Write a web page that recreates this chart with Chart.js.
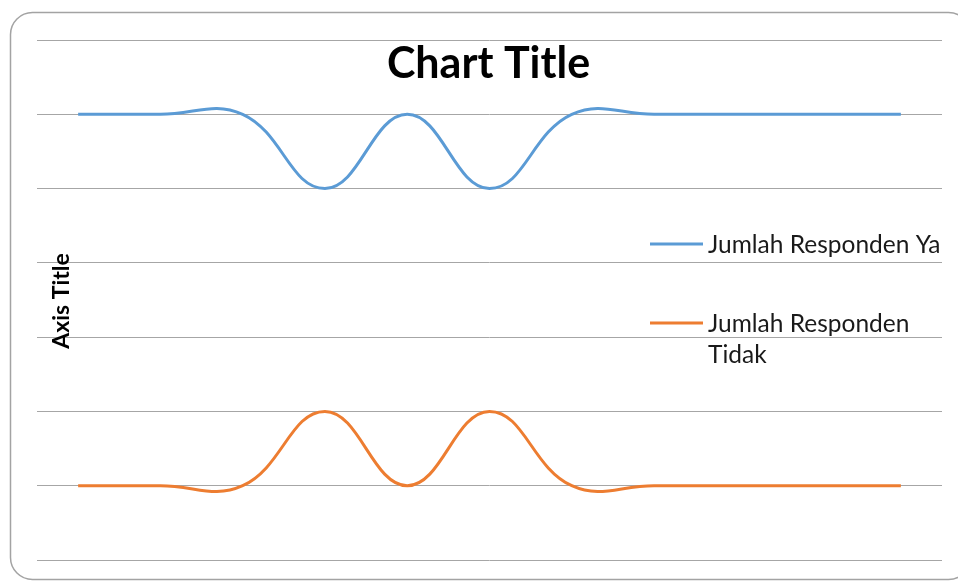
<!DOCTYPE html>
<html>
<head>
<meta charset="utf-8">
<script src="https://cdn.jsdelivr.net/npm/chart.js@4"></script>
<style>
  html, body { margin: 0; padding: 0; background: #ffffff; }
  #wrap { position: relative; width: 958px; height: 582px; }
  canvas { display: block; }
</style>
</head>
<body>
<div id="wrap"><canvas id="c" width="958" height="582"></canvas></div>
<script>
// Survey answers per item
const categories = ['1', '2', '3', '4', '5', '6', '7', '8', '9', '10', '11'];
const jumlahYa = [6, 6, 6, 5, 6, 5, 6, 6, 6, 6, 6];
const jumlahTidak = [1, 1, 1, 2, 1, 2, 1, 1, 1, 1, 1];
const seriesNames = ['Jumlah Responden Ya', 'Jumlah Responden Tidak'];
const chartTitle = 'Chart Title';
const axisTitle = 'Axis Title';

const BLUE = '#5b9bd5';
const ORANGE = '#ed7d31';

// Rounded frame around the whole chart
const framePlugin = {
  id: 'frame',
  beforeDraw(chart) {
    const ctx = chart.ctx;
    ctx.save();
    ctx.strokeStyle = '#a3a3a3';
    ctx.lineWidth = 1.5;
    ctx.beginPath();
    ctx.roundRect(10.5, 12.5, 960, 567, 22);
    ctx.stroke();
    ctx.restore();
  }
};

// Title, vertical axis title and legend drawn on top of the plot
const overlayPlugin = {
  id: 'overlay',
  afterDraw(chart) {
    const ctx = chart.ctx;
    const area = chart.chartArea;
    ctx.save();
    ctx.fillStyle = '#000000';
    ctx.textAlign = 'center';
    ctx.textBaseline = 'alphabetic';
    ctx.font = 'bold 43px Lato';
    ctx.fillText(chartTitle, (area.left + area.right) / 2 - 1, 78);

    ctx.save();
    ctx.translate(69, 301);
    ctx.rotate(-Math.PI / 2);
    ctx.font = 'bold 23px Lato';
    ctx.fillText(axisTitle, 0, 0);
    ctx.restore();

    // legend
    const items = [
      { color: chart.data.datasets[0].borderColor, lines: ['Jumlah Responden Ya'], y: 244 },
      { color: chart.data.datasets[1].borderColor, lines: ['Jumlah Responden', 'Tidak'], y: 323 }
    ];
    ctx.textAlign = 'left';
    ctx.textBaseline = 'middle';
    ctx.font = '24.5px Lato';
    items.forEach(it => {
      ctx.strokeStyle = it.color;
      ctx.lineWidth = 3;
      ctx.beginPath();
      ctx.moveTo(650, it.y);
      ctx.lineTo(703, it.y);
      ctx.stroke();
      ctx.fillStyle = '#1a1a1a';
      it.lines.forEach((t, i) => ctx.fillText(t, 708, it.y + 1 + i * 31));
    });
    ctx.restore();
  }
};

new Chart(document.getElementById('c'), {
  type: 'line',
  data: {
    labels: categories,
    datasets: [
      {
        label: seriesNames[0],
        data: jumlahYa,
        borderColor: BLUE,
        borderWidth: 3,
        pointRadius: 0,
        tension: 0.42,
        fill: false
      },
      {
        label: seriesNames[1],
        data: jumlahTidak,
        borderColor: ORANGE,
        borderWidth: 3,
        pointRadius: 0,
        tension: 0.42,
        fill: false
      }
    ]
  },
  options: {
    responsive: false,
    animation: false,
    layout: { padding: { left: 37, right: 16, top: 40, bottom: 22 } },
    plugins: {
      legend: { display: false },
      title: { display: false },
      tooltip: { enabled: false }
    },
    scales: {
      x: {
        type: 'category',
        offset: true,
        display: false
      },
      y: {
        min: 0,
        max: 7,
        ticks: { display: false, stepSize: 1 },
        border: { display: false },
        grid: { color: '#a6a6a6', lineWidth: 1, drawTicks: false }
      }
    }
  },
  plugins: [framePlugin, overlayPlugin]
});
</script>
</body>
</html>
